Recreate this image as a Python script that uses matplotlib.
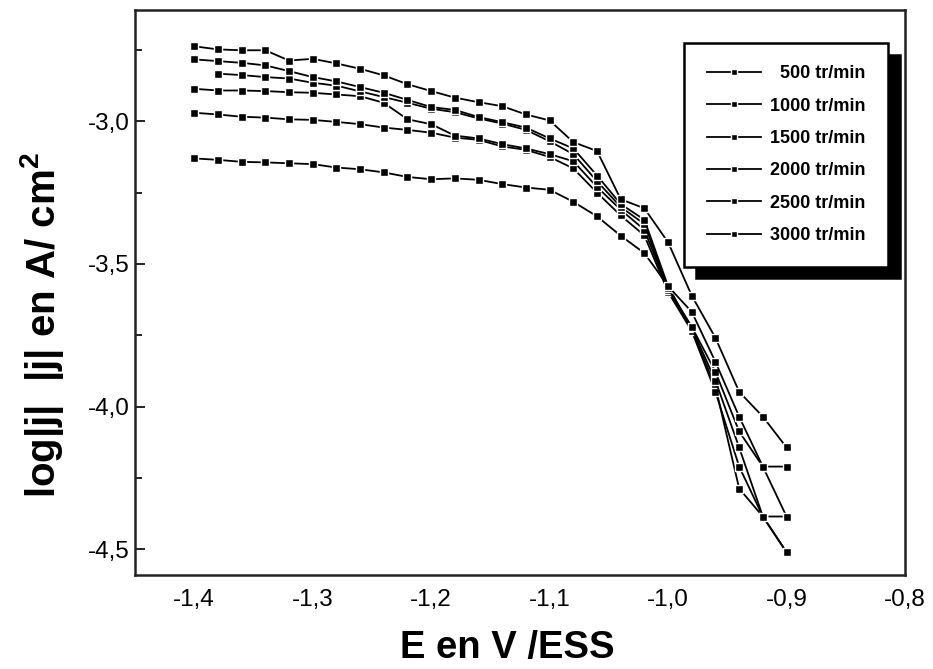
import numpy as np
import matplotlib
matplotlib.use("Agg")
import matplotlib.pyplot as plt
from matplotlib.ticker import FixedLocator, FuncFormatter

plt.rcParams['font.family'] = ['Liberation Sans', 'DejaVu Sans']
plt.rcParams['mathtext.fontset'] = 'custom'
plt.rcParams['mathtext.rm'] = 'Liberation Sans'
plt.rcParams['mathtext.bf'] = 'Liberation Sans:bold'

# Potential E (V/ESS)
E = [-1.40, -1.38, -1.36, -1.34, -1.32, -1.30, -1.28, -1.26, -1.24, -1.22,
     -1.20, -1.18, -1.16, -1.14, -1.12, -1.10, -1.08, -1.06, -1.04, -1.02,
     -1.00, -0.98, -0.96, -0.94, -0.92, -0.90]

nan = float('nan')

# log|j| (A/cm2) for each rotation speed
r500 = [-3.130, -3.135, -3.142, -3.144, -3.147, -3.150, -3.162, -3.168, -3.179, -3.195,
        -3.203, -3.200, -3.205, -3.220, -3.232, -3.240, -3.282, -3.333, -3.401, -3.462,
        -3.577, -3.730, -3.930, -4.287, -4.385, -4.385]
r1000 = [-2.970, -2.976, -2.984, -2.987, -2.993, -2.995, -3.002, -3.010, -3.022, -3.030,
         -3.040, -3.057, -3.065, -3.088, -3.100, -3.125, -3.165, -3.250, -3.330, -3.400,
         -3.598, -3.735, -3.948, -4.210, -4.385, -4.510]
r1500 = [-2.886, -2.892, -2.892, -2.894, -2.898, -2.900, -2.906, -2.912, -2.935, -2.993,
         -3.010, -3.050, -3.060, -3.080, -3.095, -3.115, -3.140, -3.230, -3.310, -3.380,
         -3.590, -3.725, -3.909, -4.143, -4.385, -4.510]
r2000 = [nan, -2.833, -2.838, -2.845, -2.850, -2.865, -2.875, -2.895, -2.915, -2.935,
         -2.956, -2.968, -2.990, -3.008, -3.030, -3.070, -3.115, -3.210, -3.300, -3.360,
         -3.585, -3.720, -3.878, -4.087, -4.210, -4.385]
r2500 = [-2.783, -2.789, -2.795, -2.804, -2.824, -2.845, -2.860, -2.880, -2.900, -2.925,
         -2.950, -2.960, -2.985, -3.003, -3.022, -3.060, -3.095, -3.190, -3.290, -3.345,
         -3.578, -3.668, -3.843, -4.035, -4.210, -4.210]
r3000 = [-2.737, -2.748, -2.751, -2.751, -2.787, -2.781, -2.797, -2.816, -2.839, -2.870,
         -2.894, -2.917, -2.933, -2.947, -2.976, -2.997, -3.073, -3.104, -3.273, -3.305,
         -3.424, -3.611, -3.759, -3.948, -4.035, -4.143]

labels = ["  500 tr/min", "1000 tr/min", "1500 tr/min",
          "2000 tr/min", "2500 tr/min", "3000 tr/min"]
series = [r500, r1000, r1500, r2000, r2500, r3000]

x_ticks = [-1.4, -1.3, -1.2, -1.1, -1.0, -0.9, -0.8]
y_ticks = [-3.0, -3.5, -4.0, -4.5]
y_minor = [-2.75, -3.25, -3.75, -4.25]

fig = plt.figure(figsize=(9.33, 6.69), dpi=100)
ax = fig.add_axes([0.1447, 0.1405, 0.8253, 0.8445])

handles = []
for lab, ys in zip(labels, series):
    ln, = ax.plot(E, ys, color='black', lw=1.3, marker='s', markersize=6,
                  markerfacecolor='black', markeredgecolor='white',
                  markeredgewidth=1.0, label=lab)
    handles.append(ln)

ax.set_xlim(-1.45, -0.8)
ax.set_ylim(-4.59, -2.61)

fmt = FuncFormatter(lambda v, p: f"{v:.1f}".replace('.', ','))
ax.xaxis.set_major_locator(FixedLocator(x_ticks))
ax.yaxis.set_major_locator(FixedLocator(y_ticks))
ax.yaxis.set_minor_locator(FixedLocator(y_minor))
ax.xaxis.set_major_formatter(fmt)
ax.yaxis.set_major_formatter(fmt)

ax.tick_params(axis='x', which='both', length=0, labelsize=17.5, pad=10)
ax.tick_params(axis='y', which='major', direction='in', length=7, width=1.2,
               labelsize=17.5, pad=4)
ax.tick_params(axis='y', which='minor', direction='in', length=5, width=1.2)

for s in ax.spines.values():
    s.set_linewidth(1.8)
    s.set_color('#222222')

ax.set_xlabel("E en V /ESS", fontsize=27.5, fontweight='bold')
ax.xaxis.set_label_coords(0.483, -0.098)
ax.set_ylabel(r"log|j|  |j| en A/ cm$^{\mathbf{2}}$", fontsize=29,
              fontweight='bold')
ax.yaxis.set_label_coords(-0.089, 0.442)

leg = ax.legend(handles=handles, loc='upper right', bbox_to_anchor=(0.978, 0.942),
                prop={'size': 13, 'weight': 'bold'}, frameon=True, fancybox=False,
                shadow={'ox': 8.5, 'oy': -8.5, 'color': 'black', 'alpha': 1},
                handlelength=3.0, handletextpad=0.5, labelspacing=0.85,
                borderpad=1.25, markerscale=0.8, borderaxespad=0)
leg.get_frame().set_edgecolor('black')
leg.get_frame().set_linewidth(1.8)
leg.get_frame().set_facecolor('white')
for t in leg.get_texts():
    t.set_fontstretch('condensed')

fig.savefig("out.png", dpi=100)
